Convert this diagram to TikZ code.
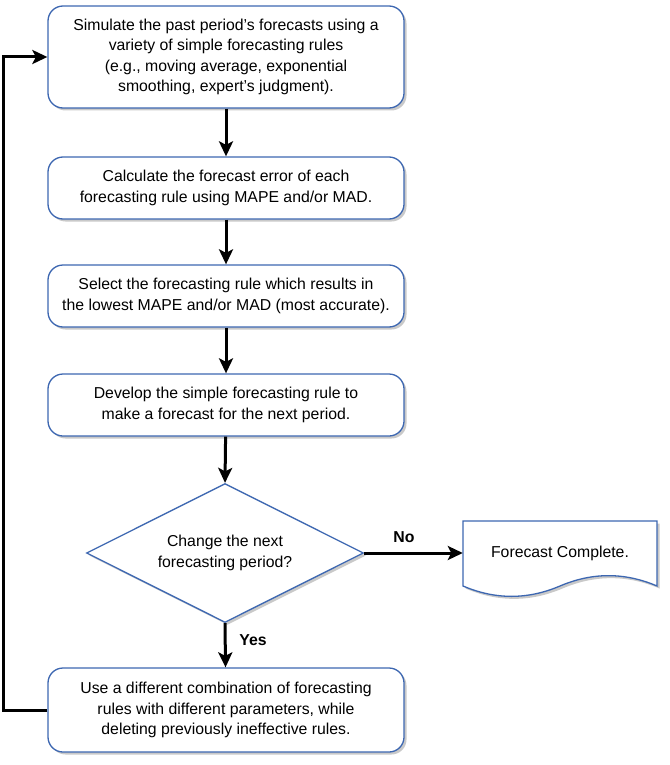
\documentclass[tikz,border=0pt]{standalone}
\usepackage{fontspec}
\setmainfont{Liberation Sans}
\usetikzlibrary{arrows.meta,shapes.geometric,shadows,calc}
\definecolor{bord}{HTML}{3D67B1}
\begin{document}
\begin{tikzpicture}[x=1pt,y=-1pt,
  txt/.style={font=\fontsize{15.8}{20.3}\selectfont},
  shad/.style={drop shadow={shadow xshift=2.5pt, shadow yshift=-2.5pt, opacity=0.3, fill=black!70}},
  proc/.style={txt, draw=bord, line width=1.3pt, rounded corners=15pt, fill=white, shad,
    minimum width=356pt, inner sep=0pt, align=center},
  dec/.style={txt, draw=bord, line width=1.3pt, fill=white, shad, shape=diamond, aspect=2,
    minimum width=277pt, minimum height=139pt, inner sep=0pt, align=center},
  flow/.style={line width=3pt, -{Stealth[length=15pt,width=14pt,inset=3.5pt]}},
  lab/.style={font=\fontsize{15.8}{19}\selectfont\bfseries}
]
\useasboundingbox (0,0) rectangle (669,765);

\node[proc, minimum height=102pt] (b1) at (226,57)
  {Simulate the past period’s forecasts using a\\variety of simple forecasting rules\\(e.g., moving average, exponential\\smoothing, expert’s judgment).};
\node[proc, minimum height=62pt] (b2) at (226,188)
  {Calculate the forecast error of each\\forecasting rule using MAPE and/or MAD.};
\node[proc, minimum height=62pt] (b3) at (226,296)
  {Select the forecasting rule which results in\\the lowest MAPE and/or MAD (most accurate).};
\node[proc, minimum height=62pt] (b4) at (226,405)
  {Develop the simple forecasting rule to\\make a forecast for the next period.};
\node[dec] (d) at (225,553)
  {Change the next\\forecasting period?};
\node[proc, minimum height=84pt] (b5) at (226,710)
  {Use a different combination of forecasting\\rules with different parameters, while\\deleting previously ineffective rules.};

% document shape
\draw[draw=bord, line width=1.3pt, fill=white, shad]
  (463,521) -- (657,521) -- (657,586)
  .. controls (624.7,572.2) and (592.3,572.2) .. (560,586)
  .. controls (527.7,599.8) and (495.3,599.8) .. (463,586) -- cycle;
\node[txt, minimum width=194pt, inner sep=0pt] (doc) at (560,553) {Forecast Complete.};

\draw[flow] (b1) -- (b2);
\draw[flow] (b2) -- (b3);
\draw[flow] (b3) -- (b4);
\draw[flow] (b4) -- (d.north);
\draw[flow] (d.south) -- (b5);
\draw[flow] (d.east) -- (doc.west);
\coordinate (lp) at (3,0);
\draw[flow] (b5.west) -- (b5.west -| lp) |- (b1.west);

\node[lab] (no) at (404,537) {No};
\node[lab] (yes) at (253,640) {Yes};
\end{tikzpicture}
\end{document}
